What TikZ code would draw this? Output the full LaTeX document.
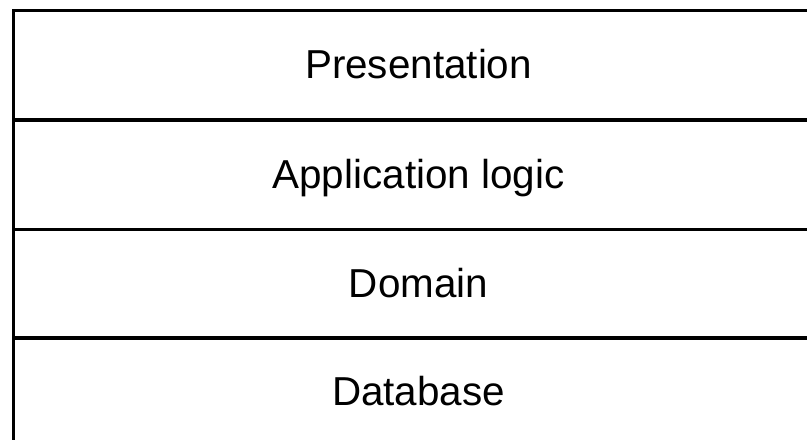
\documentclass[tikz,border=0pt]{standalone}
\usepackage{fontspec}
\setmainfont{Liberation Sans}
\begin{document}
\begin{tikzpicture}[x=1bp,y=1bp,
  layer/.style={draw=black, line width=3bp, rectangle, inner sep=0pt,
    minimum width=811bp, minimum height=109bp, anchor=north west,
    text height=27bp, text depth=0bp,
    font=\fontsize{40.4bp}{48bp}\selectfont}]
\useasboundingbox (0,0) rectangle (807,440);
\clip (0,0) rectangle (807,440);
\node[layer] (pres) at (11.5,431) {Presentation};
\node[layer] (app) at (11.5,321) {Application logic};
\node[layer] (dom) at (11.5,212) {Domain};
\node[layer] (db) at (11.5,104) {Database};
\end{tikzpicture}
\end{document}
